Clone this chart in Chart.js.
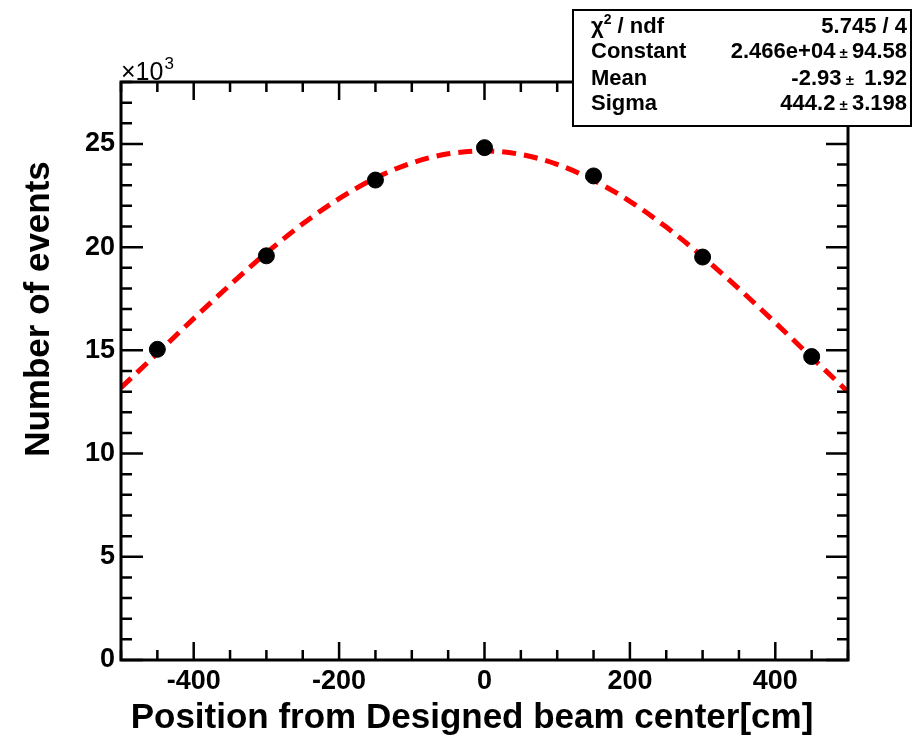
<!DOCTYPE html>
<html>
<head>
<meta charset="utf-8">
<script src="https://cdn.jsdelivr.net/npm/chart.js@4"></script>
<style>
  html, body { margin: 0; padding: 0; background: #fff; }
  #wrap { width: 913px; height: 736px; }
</style>
</head>
<body>
<div id="wrap"><canvas id="chart" width="913" height="736"></canvas></div>
<script>
// measured points: beam position [cm] vs counts
const positions = [-450, -300, -150, 0, 150, 300, 450];
const events = [15050, 19580, 23250, 24820, 23450, 19520, 14700];

// gaussian fit curve
const fitX = [-500, -450, -400, -350, -300, -250, -200, -150, -100, -50, 0,
  50, 100, 150, 200, 250, 300, 350, 400, 450, 500];
const fitY = [13190, 14860, 16540, 18170, 19720, 21130, 22350, 23350, 24080, 24520, 24660,
  24490, 24010, 23240, 22220, 20970, 19540, 17980, 16340, 14660, 12990];

// labelled ticks
const xTickValues = [-400, -200, 0, 200, 400];
const yTickValues = [0, 5000, 10000, 15000, 20000, 25000];

// fit summary box
const statNames = ["Constant", "Mean", "Sigma"];
const statValues = ["2.466e+04", "-2.93", "444.2"];
const statErrors = ["94.58", " 1.92", "3.198"];
const chi2Text = "5.745 / 4";

const xTitle = "Position from Designed beam center[cm]";
const yTitle = "Number of events";

const FONT = "'Liberation Sans', Arial, Helvetica, sans-serif";

// ROOT style frame: thick border, inward ticks on all four sides, titles, stats box
const rootFrame = {
  id: "rootFrame",
  afterDraw(chart) {
    const ctx = chart.ctx;
    const a = chart.chartArea;
    const xs = chart.scales.x;
    const ys = chart.scales.y;
    ctx.save();
    ctx.strokeStyle = "#000";
    ctx.lineWidth = 3;
    ctx.strokeRect(a.left, a.top, a.right - a.left, a.bottom - a.top);

    ctx.lineWidth = 2.5;
    ctx.beginPath();
    for (let v = -500; v <= 500; v += 50) {
      const px = xs.getPixelForValue(v);
      const len = v % 200 === 0 ? 18 : 10;
      ctx.moveTo(px, a.bottom); ctx.lineTo(px, a.bottom - len);
      ctx.moveTo(px, a.top); ctx.lineTo(px, a.top + len);
    }
    for (let v = 0; v <= 28000; v += 1000) {
      const py = ys.getPixelForValue(v);
      const len = v % 5000 === 0 ? 22 : 11;
      ctx.moveTo(a.left, py); ctx.lineTo(a.left + len, py);
      ctx.moveTo(a.right, py); ctx.lineTo(a.right - len, py);
    }
    ctx.stroke();

    // exponent label over the y axis
    ctx.fillStyle = "#000";
    ctx.textBaseline = "alphabetic";
    ctx.textAlign = "left";
    ctx.font = "25px " + FONT;
    ctx.fillText("\u00d710", 121, 80);
    const w10 = ctx.measureText("\u00d710").width;
    ctx.font = "17px " + FONT;
    ctx.fillText("3", 121 + w10 + 1, 69);

    // axis titles
    ctx.font = "bold 35px " + FONT;
    ctx.textAlign = "center";
    ctx.fillText(xTitle, 472, 728);
    ctx.save();
    ctx.translate(49, 309);
    ctx.rotate(-Math.PI / 2);
    ctx.fillText(yTitle, 0, 0);
    ctx.restore();

    // stats box
    const bx = 573, by = 10, bw = 338, bh = 116;
    ctx.fillStyle = "#fff";
    ctx.fillRect(bx, by, bw, bh);
    ctx.lineWidth = 2;
    ctx.strokeRect(bx, by, bw, bh);
    ctx.fillStyle = "#000";
    const left = 591, right = 907;
    const rows = [33, 58, 85, 110];

    ctx.textAlign = "left";
    ctx.font = "bold 22px " + FONT;
    ctx.fillText("\u03c7", left, rows[0]);
    let cx = left + ctx.measureText("\u03c7").width;
    ctx.font = "bold 14px " + FONT;
    ctx.fillText("2", cx, rows[0] - 9);
    cx += ctx.measureText("2").width;
    ctx.font = "bold 22px " + FONT;
    ctx.fillText(" / ndf", cx, rows[0]);
    ctx.textAlign = "right";
    ctx.fillText(chi2Text, right, rows[0]);

    statNames.forEach((name, i) => {
      const y = rows[i + 1];
      ctx.font = "bold 22px " + FONT;
      ctx.textAlign = "left";
      ctx.fillText(name, left, y);
      ctx.textAlign = "right";
      let rx = right;
      ctx.fillText(statErrors[i], rx, y);
      rx -= ctx.measureText(statErrors[i]).width;
      ctx.font = "bold 15px " + FONT;
      const pm = " \u00b1 ";
      ctx.fillText(pm, rx, y);
      rx -= ctx.measureText(pm).width;
      ctx.font = "bold 22px " + FONT;
      ctx.fillText(statValues[i], rx, y);
    });
    ctx.restore();
  }
};

const ctx = document.getElementById("chart").getContext("2d");

new Chart(ctx, {
  type: "scatter",
  data: {
    datasets: [
      {
        label: "data",
        data: positions.map((x, i) => ({ x: x, y: events[i] })),
        backgroundColor: "#000",
        borderColor: "#000",
        pointRadius: 8,
        order: 0,
      },
      {
        label: "fit",
        type: "line",
        data: fitX.map((x, i) => ({ x: x, y: fitY[i] })),
        borderColor: "#ff0000",
        borderWidth: 5,
        borderDash: [14, 8],
        pointRadius: 0,
        cubicInterpolationMode: "monotone",
        fill: false,
        order: 1,
      },
    ],
  },
  options: {
    responsive: false,
    animation: false,
    layout: { padding: { left: 0, right: 65, top: 82, bottom: 0 } },
    plugins: {
      legend: { display: false },
      tooltip: { enabled: false },
    },
    scales: {
      x: {
        type: "linear",
        min: -500,
        max: 500,
        grid: { display: false, drawTicks: false },
        border: { display: false },
        ticks: {
          padding: 5,
          color: "#000",
          font: { family: FONT, size: 27, weight: "bold" },
          maxRotation: 0,
          autoSkip: false,
        },
        afterBuildTicks: (s) => { s.ticks = xTickValues.map((v) => ({ value: v })); },
        afterFit: (s) => { s.height = 76; },
      },
      y: {
        type: "linear",
        min: 0,
        max: 28000,
        grid: { display: false, drawTicks: false },
        border: { display: false },
        ticks: {
          padding: 6,
          color: "#000",
          font: { family: FONT, size: 27, weight: "bold" },
          autoSkip: false,
          callback: (v) => v / 1000,
        },
        afterBuildTicks: (s) => { s.ticks = yTickValues.map((v) => ({ value: v })); },
        afterFit: (s) => { s.width = 121; },
      },
    },
  },
  plugins: [rootFrame],
});
</script>
</body>
</html>
